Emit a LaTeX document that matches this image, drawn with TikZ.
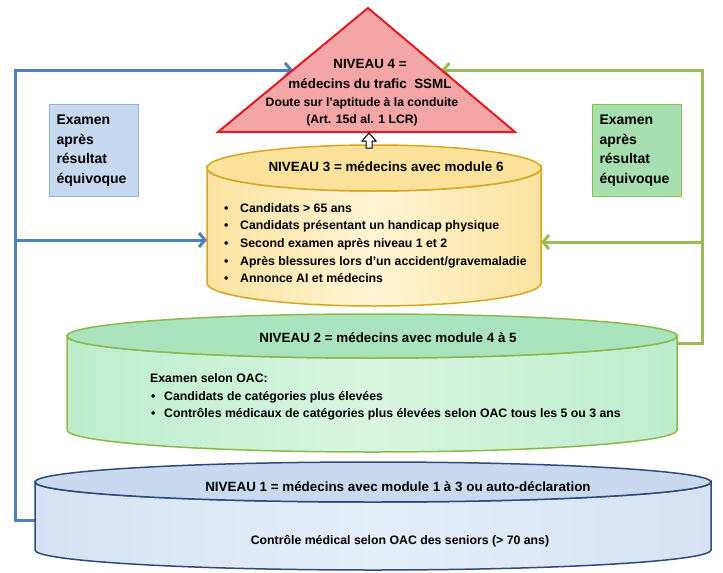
\documentclass[tikz,border=0pt]{standalone}
\usepackage{fontspec}
\setmainfont{Liberation Sans}
\usetikzlibrary{arrows.meta,calc}
\definecolor{lineblue}{HTML}{4F81BD}
\definecolor{linegreen}{HTML}{9BBB59}
\definecolor{boxblue}{HTML}{C6D9F1}
\definecolor{boxblueline}{HTML}{95B3D7}
\definecolor{boxgreen}{HTML}{A8DFB0}
\definecolor{boxgreenline}{HTML}{8DBF4E}
\definecolor{trifill}{HTML}{F4A5A5}
\definecolor{triline}{HTML}{E31B23}
\definecolor{yelside}{HTML}{FCE3A0}
\definecolor{yelmid}{HTML}{FFF4D4}
\definecolor{yeltop}{HTML}{FCE29A}
\definecolor{yelline}{HTML}{D9A521}
\definecolor{grnside}{HTML}{BDEDCD}
\definecolor{grnmid}{HTML}{D8F5E0}
\definecolor{grntop}{HTML}{A9E4BF}
\definecolor{grnline}{HTML}{8DB84A}
\definecolor{bluside}{HTML}{D6E2F3}
\definecolor{blumid}{HTML}{E6EEF8}
\definecolor{blutop}{HTML}{C9D9EF}
\definecolor{bluline}{HTML}{2F4B7C}
\begin{document}
\begin{tikzpicture}[x=1pt,y=-1pt,
    blueline/.style={draw=lineblue,line width=3pt},
    greenline/.style={draw=linegreen,line width=3pt},
    tip/.style={-{Straight Barb[length=6pt,width=14pt]}},
    note/.style={line width=1pt,minimum width=89pt,minimum height=92pt,text width=75pt,
        align=left,inner sep=7pt,anchor=north west,font=\fontsize{14}{19.5}\selectfont\bfseries},
    title/.style={font=\fontsize{13.4}{20}\selectfont\bfseries,inner sep=0pt},
    small/.style={font=\fontsize{12.3}{17.6}\selectfont\bfseries,inner sep=0pt,align=left},
    drum/.style={line width=1.5pt},
    tri/.style={fill=trifill,draw=triline,line width=2pt,line join=miter}
]
\path[use as bounding box,fill=white] (0,0) rectangle (723,573);

\coordinate (apex) at (368,8);
\coordinate (t4w) at (218,132);
\coordinate (t4e) at (515,132);
\coordinate (lv3w) at (207,240);
\coordinate (lv3e) at (541,242);
\coordinate (lv2e) at (677,343);
\coordinate (lv1w) at (35,520);
\coordinate (bluetop) at (15,70);
\coordinate (bluebot) at (15,520);
\coordinate (greentop) at (702,70);
\coordinate (greenbot) at (702,343);

\draw[blueline,tip] (lv1w) -- (bluebot) -- (bluetop) -- ($(apex)!.5!(t4w)$);
\draw[blueline,tip] (bluebot |- lv3w) -- (lv3w);
\draw[greenline,tip] (lv2e) -- (greenbot) -- (greentop) -- ($(apex)!.5!(t4e)$);
\draw[greenline,tip] (greenbot |- lv3e) -- (lv3e);

\draw[drum,draw=bluline,left color=bluside,right color=bluside,middle color=blumid]
    (35,482) -- (35,550) arc[start angle=180,end angle=0,x radius=338,y radius=20]
    -- (711,482) arc[start angle=0,end angle=180,x radius=338,y radius=20] -- cycle;
\draw[drum,draw=bluline,fill=blutop] (373,482) ellipse[x radius=338,y radius=20];

\draw[drum,draw=grnline,left color=grnside,right color=grnside,middle color=grnmid]
    (67,336) -- (67,430) arc[start angle=180,end angle=0,x radius=305,y radius=22]
    -- (677,336) arc[start angle=0,end angle=180,x radius=305,y radius=22] -- cycle;
\draw[drum,draw=grnline,fill=grntop] (372,336) ellipse[x radius=305,y radius=22];

\draw[drum,draw=yelline,left color=yelside,right color=yelside,middle color=yelmid]
    (207,168) -- (207,283) arc[start angle=180,end angle=0,x radius=167,y radius=23]
    -- (541,168) arc[start angle=0,end angle=180,x radius=167,y radius=23] -- cycle;
\draw[drum,draw=yelline,fill=yeltop] (374,168) ellipse[x radius=167,y radius=23];

\draw[tri] (apex) -- (t4w) -- (t4e) -- cycle;
\draw[fill=white,line width=1pt] (369,133) -- ++(7,8) -- ++(-4,0) -- ++(0,7) -- ++(-6,0)
    -- ++(0,-7) -- ++(-4,0) -- cycle;

\node[title,align=center] (n4) at (370,74) {NIVEAU 4 =\\médecins du trafic\ \ SSML};
\node[small,align=center,font=\fontsize{12.2}{16.5}\selectfont\bfseries] (n4b) at (362,112)
    {Doute sur l’aptitude à la conduite\\(Art. 15d al. 1 LCR)};

\node[note,fill=boxblue,draw=boxblueline] (exam1) at (49,104) {Examen\\après\\résultat\\équivoque};
\node[note,fill=boxgreen,draw=boxgreenline] (exam2) at (592,104) {Examen\\après\\résultat\\équivoque};

\node[title] (n3) at (386,167) {NIVEAU 3 = médecins avec module 6};
\node[small,anchor=west] (n3b) at (224,243) {%
    \makebox[16pt][l]{\textbullet}Candidats > 65 ans\\
    \makebox[16pt][l]{\textbullet}Candidats présentant un handicap physique\\
    \makebox[16pt][l]{\textbullet}Second examen après niveau 1 et 2\\
    \makebox[16pt][l]{\textbullet}Après blessures lors d’un accident/gravemaladie\\
    \makebox[16pt][l]{\textbullet}Annonce AI et médecins};

\node[title] (n2) at (388,338) {NIVEAU 2 = médecins avec module 4 à 5};
\node[small,anchor=west] (n2b) at (150,397) {%
    Examen selon OAC:\\
    \makebox[14pt][l]{\hspace{1pt}\textbullet}Candidats de catégories plus élevées\\
    \makebox[14pt][l]{\hspace{1pt}\textbullet}Contrôles médicaux de catégories plus élevées selon OAC tous les 5 ou 3 ans};

\node[title] (n1) at (398,487) {NIVEAU 1 = médecins avec module 1 à 3 ou auto-déclaration};
\node[small] (n1b) at (400,541) {Contrôle médical selon OAC des seniors (> 70 ans)};
\end{tikzpicture}
\end{document}
